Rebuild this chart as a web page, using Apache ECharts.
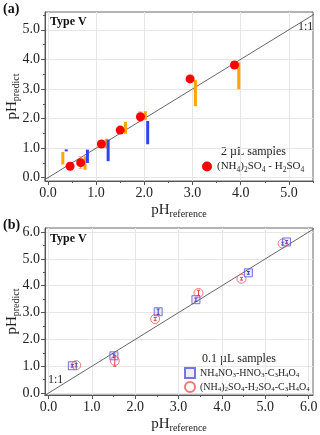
<!DOCTYPE html>
<html>
<head>
<meta charset="utf-8">
<script src="https://cdn.jsdelivr.net/npm/echarts@6/dist/echarts.min.js"></script>
<style>
html, body {margin:0; padding:0; background:#fff;}
#main {width:320px; height:435px;}
</style>
</head>
<body>
<div id="main"></div>
<script>
// ---- panel (a): 2 uL samples ----
var aRef  = [0.46, 0.68, 1.11, 1.50, 1.92, 2.95, 3.87];
var aPred = [0.39, 0.51, 1.14, 1.61, 2.06, 3.34, 3.81];
var aErr  = [0, 0.20, 0, 0, 0.17, 0, 0];
// orange / blue range bars
var orangeX  = [0.31, 0.77, 1.21, 1.61, 2.02, 3.06, 3.96];
var orangeLo = [0.45, 0.27, 1.00, 1.49, 1.95, 2.42, 2.99];
var orangeHi = [0.87, 0.72, 1.32, 1.89, 2.25, 3.30, 3.90];
var blueX  = [0.38, 0.82, 1.25, 2.07];
var blueLo = [0.89, 0.50, 0.56, 1.13];
var blueHi = [0.96, 0.95, 1.29, 1.92];

// ---- panel (b): 0.1 uL samples ----
var nitRef  = [0.55, 1.51, 2.53, 3.40, 4.61, 5.49];
var nitPred = [1.02, 1.39, 3.03, 3.48, 4.48, 5.63];
var nitErr  = [0.05, 0.07, 0.10, 0.06, 0.05, 0.05];
var sulRef  = [0.64, 1.53, 2.46, 3.46, 4.45, 5.40];
var sulPred = [1.04, 1.20, 2.76, 3.73, 4.26, 5.57];
var sulErr  = [0.06, 0.20, 0.06, 0.10, 0.05, 0.05];

// ticks
var majorA = [0, 1, 2, 3, 4, 5];
var minorA = [0, 0.5, 1, 1.5, 2, 2.5, 3, 3.5, 4, 4.5, 5, 5.5];
var majorB = [0, 1, 2, 3, 4, 5, 6];
var minorB = [0, 0.5, 1, 1.5, 2, 2.5, 3, 3.5, 4, 4.5, 5, 5.5, 6];
var oneToOne = [-0.5, 7];

var SERIF = 'Liberation Serif';
var nameA = '(NH4)2SO4 - H2SO4';
var nameNit = 'NH4NO3-HNO3-C3H4O4';
var nameSul = '(NH4)2SO4-H2SO4-C3H4O4';

function chem(s) {
    return '{m|' + s.replace(/(\d+)/g, '}{s|$1}{m|') + '}';
}
function zip(a, b, c) {
    var out = [];
    for (var i = 0; i < a.length; i++) {
        out.push(c ? [a[i], b[i], c[i]] : [a[i], b[i]]);
    }
    return out;
}

function rangeBar(color, w) {
    return function (params, api) {
        var lo = api.coord([api.value(0), api.value(1)]);
        var hi = api.coord([api.value(0), api.value(2)]);
        return {
            type: 'rect',
            shape: {x: lo[0] - w / 2, y: hi[1], width: w, height: lo[1] - hi[1]},
            style: {fill: color}
        };
    };
}
function errBar(color, cap, dash) {
    return function (params, api) {
        var x = api.value(0), y = api.value(1), e = api.value(2);
        if (!e) return;
        var lo = api.coord([x, y - e]);
        var hi = api.coord([x, y + e]);
        var st = {stroke: color, lineWidth: 1, lineDash: dash || null};
        return {
            type: 'group',
            children: [
                {type: 'line', shape: {x1: lo[0], y1: lo[1], x2: hi[0], y2: hi[1]}, style: st},
                {type: 'line', shape: {x1: lo[0] - cap, y1: lo[1], x2: lo[0] + cap, y2: lo[1]}, style: st},
                {type: 'line', shape: {x1: hi[0] - cap, y1: hi[1], x2: hi[0] + cap, y2: hi[1]}, style: st}
            ]
        };
    };
}

var axisRich = {
    m: {fontFamily: SERIF, fontSize: 15, color: '#222', lineHeight: 15, verticalAlign: 'top'},
    s: {fontFamily: SERIF, fontSize: 10, color: '#222', lineHeight: 10, verticalAlign: 'top', padding: [6, 0, 0, 0]}
};
var legRichA = {
    m: {fontFamily: SERIF, fontSize: 11, color: '#222', lineHeight: 11, verticalAlign: 'top'},
    s: {fontFamily: SERIF, fontSize: 7.5, color: '#222', lineHeight: 7, verticalAlign: 'top', padding: [5, 0, 0, 0]}
};
var legRichB = {
    m: {fontFamily: SERIF, fontSize: 10, color: '#222', lineHeight: 10, verticalAlign: 'top'},
    s: {fontFamily: SERIF, fontSize: 7, color: '#222', lineHeight: 7, verticalAlign: 'top', padding: [4, 0, 0, 0]}
};

function mainAxis(dim, grid, min, max, major, minor, name, gap) {
    return {
        type: 'value', gridIndex: grid, min: min, max: max,
        position: dim == 'x' ? 'bottom' : 'left',
        axisLine: {show: true, onZero: false, lineStyle: {color: '#555'}},
        axisTick: {show: true, customValues: major, length: 4, lineStyle: {color: '#555'}},
        axisLabel: {
            customValues: major, margin: 5,
            formatter: function (v) { return v.toFixed(1); },
            fontFamily: SERIF, fontSize: 14, color: '#222'
        },
        splitLine: {show: true, customValues: minor, lineStyle: {color: '#e6e6e6', width: 1}},
        name: name, nameLocation: 'middle', nameGap: gap, nameMoveOverlap: false,
        nameTextStyle: {rich: axisRich}
    };
}
function minorAxis(dim, grid, min, max, minor) {
    return {
        type: 'value', gridIndex: grid, min: min, max: max,
        position: dim == 'x' ? 'bottom' : 'left',
        axisLine: {show: false, onZero: false},
        axisTick: {show: true, customValues: minor, length: 2, lineStyle: {color: '#555'}},
        axisLabel: {show: false},
        splitLine: {show: false}
    };
}

var chart = echarts.init(document.getElementById('main'));
var option = {
    animation: false,
    backgroundColor: '#fff',
    grid: [
        {left: 45, top: 12, width: 268, height: 169, show: true, borderColor: '#666', borderWidth: 1,
         containLabel: false, outerBoundsMode: 'none'},
        {left: 45, top: 228, width: 268, height: 167, show: true, borderColor: '#666', borderWidth: 1,
         containLabel: false, outerBoundsMode: 'none'}
    ],
    xAxis: [
        mainAxis('x', 0, -0.06, 5.5, majorA, minorA, '{m|pH}{s|reference}', 22),
        minorAxis('x', 0, -0.06, 5.5, minorA),
        mainAxis('x', 1, -0.08, 6.1, majorB, minorB, '{m|pH}{s|reference}', 22),
        minorAxis('x', 1, -0.08, 6.1, minorB)
    ],
    yAxis: [
        mainAxis('y', 0, -0.11, 5.6, majorA, minorA, '{m|pH}{s|predict}', 25),
        minorAxis('y', 0, -0.11, 5.6, minorA),
        mainAxis('y', 1, -0.07, 6.15, majorB, minorB, '{m|pH}{s|predict}', 25),
        minorAxis('y', 1, -0.07, 6.15, minorB)
    ],
    legend: [
        {
            data: [nameA], left: 202, top: 161, orient: 'vertical',
            itemWidth: 10, itemHeight: 10, itemGap: 2, padding: 0,
            formatter: chem, textStyle: {rich: legRichA}
        },
        {
            data: [nameNit, nameSul], left: 184, top: 367, orient: 'vertical',
            itemWidth: 10, itemHeight: 10, itemGap: 2, padding: 0,
            formatter: chem, textStyle: {rich: legRichB}
        }
    ],
    graphic: [
        {type: 'text', left: 3, top: 2, style: {text: '(a)', font: 'bold 14px ' + SERIF, fill: '#111'}},
        {type: 'text', left: 3, top: 218, style: {text: '(b)', font: 'bold 14px ' + SERIF, fill: '#111'}},
        {type: 'text', left: 50, top: 16, style: {text: 'Type V', font: 'bold 12px ' + SERIF, fill: '#111'}},
        {type: 'text', left: 50, top: 233, style: {text: 'Type V', font: 'bold 12px ' + SERIF, fill: '#111'}},
        {type: 'text', left: 298, top: 21, style: {text: '1:1', font: '12px ' + SERIF, fill: '#222'}},
        {type: 'text', left: 48, top: 374, style: {text: '1:1', font: '12px ' + SERIF, fill: '#222'}},
        {type: 'text', left: 221, top: 146, style: {text: '2 \u00b5L samples', font: '12px ' + SERIF, fill: '#222'}},
        {type: 'text', left: 202, top: 353, style: {text: '0.1 \u00b5L samples', font: '12px ' + SERIF, fill: '#222'}}
    ],
    series: [
        {
            type: 'line', xAxisIndex: 0, yAxisIndex: 0, data: zip(oneToOne, oneToOne),
            symbol: 'none', lineStyle: {color: '#666', width: 1}, silent: true, z: 1
        },
        {
            type: 'custom', name: 'orange', xAxisIndex: 0, yAxisIndex: 0,
            data: zip(orangeX, orangeLo, orangeHi), encode: {x: 0, y: [1, 2]},
            renderItem: rangeBar('#ffa500', 3), z: 3
        },
        {
            type: 'custom', name: 'blue', xAxisIndex: 0, yAxisIndex: 0,
            data: zip(blueX, blueLo, blueHi), encode: {x: 0, y: [1, 2]},
            renderItem: rangeBar('#3344ee', 3), z: 3
        },
        {
            type: 'custom', name: 'errA', xAxisIndex: 0, yAxisIndex: 0,
            data: zip(aRef, aPred, aErr), encode: {x: 0, y: 1},
            renderItem: errBar('rgba(240,110,110,0.7)', 2, [2, 1]), z: 4
        },
        {
            type: 'scatter', name: nameA, xAxisIndex: 0, yAxisIndex: 0,
            data: zip(aRef, aPred), symbol: 'circle', symbolSize: 9,
            itemStyle: {color: '#ff0000', opacity: 1}, z: 5
        },
        {
            type: 'line', xAxisIndex: 2, yAxisIndex: 2, data: zip(oneToOne, oneToOne),
            symbol: 'none', lineStyle: {color: '#666', width: 1}, silent: true, z: 1
        },
        {
            type: 'custom', name: 'errNit', xAxisIndex: 2, yAxisIndex: 2,
            data: zip(nitRef, nitPred, nitErr), encode: {x: 0, y: 1},
            renderItem: errBar('#3333cc', 1.5), z: 4
        },
        {
            type: 'custom', name: 'errSul', xAxisIndex: 2, yAxisIndex: 2,
            data: zip(sulRef, sulPred, sulErr), encode: {x: 0, y: 1},
            renderItem: errBar('#e04444', 1.5), z: 4
        },
        {
            type: 'scatter', name: nameNit, xAxisIndex: 2, yAxisIndex: 2,
            data: zip(nitRef, nitPred), symbol: 'rect', symbolSize: 8,
            itemStyle: {color: 'rgba(90,90,230,0.15)', borderColor: '#5555dd', borderWidth: 1}, z: 5
        },
        {
            type: 'scatter', name: nameSul, xAxisIndex: 2, yAxisIndex: 2,
            data: zip(sulRef, sulPred), symbol: 'circle', symbolSize: 9,
            itemStyle: {color: 'rgba(255,255,255,0)', borderColor: '#ee5555', borderWidth: 1}, z: 5
        }
    ]
};
chart.setOption(option);
</script>
</body>
</html>
